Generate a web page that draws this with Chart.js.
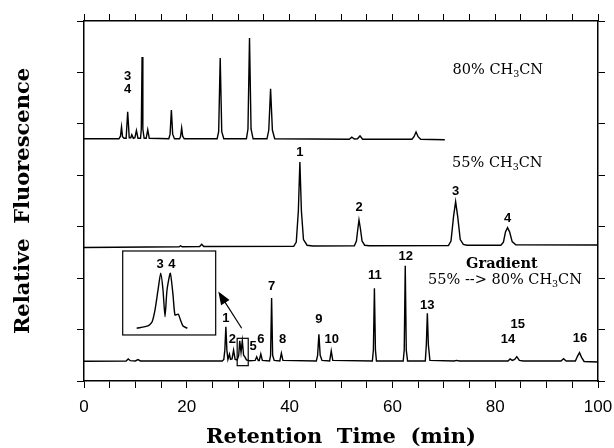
<!DOCTYPE html>
<html>
<head>
<meta charset="utf-8">
<script src="https://cdn.jsdelivr.net/npm/chart.js@4"></script>
<style>
  body { margin: 0; background: #fff; }
  canvas { display: block; }
</style>
</head>
<body>
<canvas id="cromatograma" width="614" height="448"></canvas>
<script>
const traza80 = [
  [0, 4.71], [6.8, 4.71], [7.1, 4.76], [7.3, 4.94], [7.5, 4.75], [7.8, 4.72], [8.2, 4.72],
  [8.5, 5.235], [8.8, 4.73], [9.1, 4.73], [9.3, 4.79], [9.6, 4.72], [9.9, 4.73], [10.2, 4.87],
  [10.5, 4.72], [11.0, 4.72], [11.15, 4.9], [11.3, 6.30], [11.45, 4.9], [11.7, 4.72], [12.1, 4.72],
  [12.4, 4.885], [12.7, 4.72], [16.5, 4.71], [16.75, 4.8], [17.0, 5.27], [17.25, 4.8], [17.6, 4.71],
  [18.6, 4.71], [18.8, 4.76], [19.0, 4.92], [19.2, 4.76], [19.5, 4.71], [25.9, 4.71], [26.2, 4.85],
  [26.5, 6.28], [26.8, 4.85], [27.2, 4.71], [31.6, 4.71], [31.9, 4.9], [32.2, 6.67], [32.5, 4.9],
  [32.9, 4.71], [35.6, 4.71], [35.95, 4.88], [36.3, 5.68], [36.65, 4.88], [37.1, 4.71],
  [51.6, 4.70], [52.1, 4.74], [52.6, 4.705], [53.2, 4.71], [53.7, 4.765], [54.2, 4.70],
  [63.8, 4.70], [64.2, 4.75], [64.6, 4.84], [65.0, 4.75], [65.5, 4.70], [70.2, 4.69]
];

const traza55 = [
  [0, 2.596], [18.5, 2.61], [18.8, 2.63], [19.1, 2.61], [22.5, 2.615], [22.9, 2.66], [23.3, 2.615],
  [40.8, 2.62], [41.3, 2.70], [41.7, 3.3], [42.0, 4.26], [42.3, 3.3], [42.7, 2.75], [43.4, 2.64],
  [44.5, 2.625], [52.6, 2.63], [53.0, 2.72], [53.3, 2.98], [53.5, 3.13], [53.75, 2.98], [54.1, 2.72],
  [54.6, 2.64], [55.5, 2.63], [70.9, 2.635], [71.4, 2.72], [71.9, 3.2], [72.3, 3.487], [72.7, 3.2],
  [73.2, 2.75], [73.8, 2.655], [74.5, 2.64], [81.1, 2.64], [81.6, 2.7], [82.0, 2.9], [82.4, 2.981],
  [82.8, 2.9], [83.3, 2.71], [84.0, 2.65], [100, 2.645]
];

const trazaGradiente = [
  [0, 0.385], [8.2, 0.39], [8.6, 0.43], [9.0, 0.395], [10.0, 0.39], [10.5, 0.415], [11.0, 0.39],
  [26.9, 0.39], [27.2, 0.42], [27.4, 0.6], [27.6, 1.056], [27.8, 0.6], [28.0, 0.42], [28.3, 0.52],
  [28.5, 0.42], [28.8, 0.43], [29.1, 0.60], [29.4, 0.42], [29.8, 0.41], [30.1, 0.5], [30.3, 0.78],
  [30.55, 0.56], [30.8, 0.78], [31.05, 0.5], [31.3, 0.47], [31.6, 0.41], [32.2, 0.395], [33.3, 0.4],
  [33.6, 0.47], [33.9, 0.4], [34.1, 0.4], [34.4, 0.525], [34.7, 0.4], [36.1, 0.39], [36.3, 0.5],
  [36.5, 1.614], [36.7, 0.5], [37.0, 0.4], [38.1, 0.39], [38.4, 0.539], [38.7, 0.4], [45.2, 0.39],
  [45.45, 0.5], [45.7, 0.908], [45.95, 0.5], [46.3, 0.4], [47.8, 0.39], [48.1, 0.584], [48.4, 0.4],
  [56.1, 0.39], [56.3, 0.6], [56.5, 1.803], [56.7, 0.6], [56.9, 0.39], [62.1, 0.39], [62.3, 0.6],
  [62.5, 2.242], [62.7, 0.6], [62.95, 0.39], [66.4, 0.39], [66.6, 0.7], [66.8, 1.317], [67.0, 0.7],
  [67.3, 0.4], [72.0, 0.39], [72.5, 0.40], [73, 0.39], [82.5, 0.39], [82.9, 0.428], [83.3, 0.40],
  [83.8, 0.42], [84.2, 0.473], [84.7, 0.40], [85.5, 0.39], [92.8, 0.39], [93.3, 0.434], [93.8, 0.39],
  [95.6, 0.39], [96.0, 0.48], [96.4, 0.551], [96.8, 0.46], [97.3, 0.38], [100, 0.37]
];

// ampliacion de los picos 3 y 4 (recuadro)
const trazaAmpliada = [
  [10.25, 1.025], [12.45, 1.07], [13.23, 1.147], [13.81, 1.38], [14.4, 1.77], [14.92, 2.094],
  [15.37, 1.77], [15.76, 1.25], [16.15, 1.77], [16.79, 2.094], [17.32, 1.67], [17.70, 1.284],
  [18.35, 1.297], [18.77, 1.186], [19.26, 1.07], [20.1, 1.025]
];

const ticksX = [0, 20, 40, 60, 80, 100];

// etiquetas de picos: [texto, tiempo, senal]
const etiquetasPicos = [
  ['3', 8.5, 5.93], ['4', 8.5, 5.66],
  ['1', 42.0, 4.45], ['2', 53.5, 3.38], ['3', 72.3, 3.69], ['4', 82.4, 3.17],
  ['1', 27.6, 1.22], ['2', 28.85, 0.80], ['5', 32.9, 0.667], ['6', 34.4, 0.80], ['7', 36.5, 1.834],
  ['8', 38.65, 0.80], ['9', 45.7, 1.206], ['10', 48.2, 0.817], ['11', 56.6, 2.061], ['12', 62.6, 2.417],
  ['13', 66.8, 1.464], ['14', 82.5, 0.80], ['15', 84.4, 1.108], ['16', 96.5, 0.836],
  ['3', 14.8, 2.27], ['4', 17.1, 2.27]
];

const condiciones = [
  { partes: [['80% CH'], ['3', 'sub'], ['CN']], x: 80.5, y: 6.047, negrita: false },
  { partes: [['55% CH'], ['3', 'sub'], ['CN']], x: 80.4, y: 4.239, negrita: false },
  { partes: [['Gradient']], x: 81.3, y: 2.275, negrita: true },
  { partes: [['55% --> 80% CH'], ['3', 'sub'], ['CN']], x: 81.9, y: 1.964, negrita: false }
];

const recuadroGrande = { x0: 7.53, x1: 25.62, y0: 0.895, y1: 2.528 };
const recuadroChico = { x0: 29.8, x1: 31.95, y0: 0.298, y1: 0.830 };
const flecha = { x0: 30.68, y0: 1.025, x1: 26.13, y1: 1.738 };

const aPuntos = arr => arr.map(([x, y]) => ({ x, y }));

function textoCompuesto(ctx, partes, cx, cy, negrita) {
  const fuente = (negrita ? 'bold ' : '') + '14.5px "DejaVu Serif"';
  const fuenteSub = '9.5px "DejaVu Serif"';
  let ancho = 0;
  partes.forEach(p => {
    ctx.font = p[1] === 'sub' ? fuenteSub : fuente;
    ancho += ctx.measureText(p[0]).width;
  });
  let x = cx - ancho / 2;
  ctx.textAlign = 'left';
  ctx.textBaseline = 'middle';
  partes.forEach(p => {
    const sub = p[1] === 'sub';
    ctx.font = sub ? fuenteSub : fuente;
    ctx.fillText(p[0], x, sub ? cy + 5 : cy);
    x += ctx.measureText(p[0]).width;
  });
}

const anotaciones = {
  id: 'anotaciones',
  afterDatasetsDraw(chart) {
    const { ctx } = chart;
    const sx = chart.scales.x, sy = chart.scales.y;
    const px = v => sx.getPixelForValue(v), py = v => sy.getPixelForValue(v);
    ctx.save();
    ctx.fillStyle = '#000';
    ctx.strokeStyle = '#000';

    ctx.font = 'bold 13px "Liberation Sans"';
    ctx.textAlign = 'center';
    ctx.textBaseline = 'middle';
    etiquetasPicos.forEach(([t, x, y]) => ctx.fillText(t, px(x), py(y)));

    condiciones.forEach(c => textoCompuesto(ctx, c.partes, px(c.x), py(c.y), c.negrita));

    ctx.lineWidth = 1.2;
    [recuadroGrande, recuadroChico].forEach(r => {
      ctx.strokeRect(px(r.x0), py(r.y1), px(r.x1) - px(r.x0), py(r.y0) - py(r.y1));
    });

    const ax0 = px(flecha.x0), ay0 = py(flecha.y0), ax1 = px(flecha.x1), ay1 = py(flecha.y1);
    const ang = Math.atan2(ay1 - ay0, ax1 - ax0);
    ctx.beginPath();
    ctx.moveTo(ax0, ay0);
    ctx.lineTo(ax1 - 8 * Math.cos(ang), ay1 - 8 * Math.sin(ang));
    ctx.stroke();
    ctx.beginPath();
    ctx.moveTo(ax1, ay1);
    ctx.lineTo(ax1 - 13 * Math.cos(ang) + 5 * Math.sin(ang), ay1 - 13 * Math.sin(ang) - 5 * Math.cos(ang));
    ctx.lineTo(ax1 - 13 * Math.cos(ang) - 5 * Math.sin(ang), ay1 - 13 * Math.sin(ang) + 5 * Math.cos(ang));
    ctx.closePath();
    ctx.fill();
    ctx.restore();
  }
};

const rejilla = { drawOnChartArea: false, drawTicks: true, tickLength: 7, color: '#000', lineWidth: 1 };
const borde = { display: true, color: '#000', width: 1.5 };
const serieBase = { borderColor: '#000', borderWidth: 1.4, pointRadius: 0, tension: 0, fill: false };

new Chart(document.getElementById('cromatograma'), {
  type: 'line',
  data: {
    datasets: [
      { ...serieBase, label: '80% CH3CN', data: aPuntos(traza80) },
      { ...serieBase, label: '55% CH3CN', data: aPuntos(traza55) },
      { ...serieBase, label: 'Gradient', data: aPuntos(trazaGradiente) },
      { ...serieBase, label: 'detalle 3 4', data: aPuntos(trazaAmpliada), tension: 0.2 }
    ]
  },
  options: {
    responsive: false,
    animation: false,
    devicePixelRatio: 1,
    layout: { padding: 0 },
    plugins: { legend: { display: false }, tooltip: { enabled: false } },
    scales: {
      x: {
        type: 'linear', position: 'bottom', min: 0, max: 100,
        ticks: {
          stepSize: 5, autoSkip: false, maxRotation: 0, color: '#000', padding: 0,
          font: { family: 'Liberation Sans', size: 17, lineHeight: 2.24 },
          callback: v => ticksX.includes(v) ? v : ''
        },
        grid: rejilla, border: borde,
        title: {
          display: true, text: 'Retention  Time  (min)', color: '#000', padding: 0,
          font: { family: 'DejaVu Serif', weight: 'bold', size: 21, lineHeight: 1 }
        },
        afterFit(s) { s.height = 67; }
      },
      xArriba: {
        type: 'linear', position: 'top', min: 0, max: 100,
        ticks: { display: false, stepSize: 5, autoSkip: false },
        grid: rejilla, border: borde,
        afterFit(s) { s.height = 21; }
      },
      y: {
        type: 'linear', position: 'left', min: 0, max: 7,
        ticks: { display: false, stepSize: 1, autoSkip: false },
        grid: rejilla, border: borde,
        title: {
          display: true, text: 'Relative  Fluorescence', color: '#000', padding: { top: 13 },
          font: { family: 'DejaVu Serif', weight: 'bold', size: 21, lineHeight: 1 }
        },
        afterFit(s) { s.width = 84; }
      },
      yDerecha: {
        type: 'linear', position: 'right', min: 0, max: 7,
        ticks: { display: false, stepSize: 1, autoSkip: false },
        grid: rejilla, border: borde,
        afterFit(s) { s.width = 16; }
      }
    }
  },
  plugins: [anotaciones]
});
</script>
</body>
</html>
